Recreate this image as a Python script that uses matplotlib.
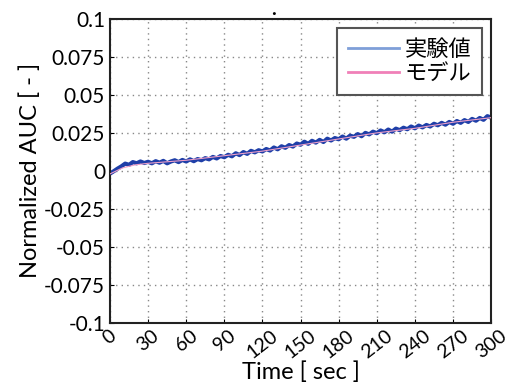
import numpy as np
import matplotlib.pyplot as plt
from matplotlib.lines import Line2D

t_exp = np.arange(0, 301, 3)
auc_exp = [
    -0.0018, -0.0002, 0.0015, 0.0030, 0.0048, 0.0040, 0.0058, 0.0050, 0.0062, 0.0052,
    0.0060, 0.0050, 0.0064, 0.0054, 0.0066, 0.0050, 0.0062, 0.0070, 0.0058, 0.0072,
    0.0062, 0.0076, 0.0064, 0.0078, 0.0070, 0.0084, 0.0076, 0.0092, 0.0082, 0.0098,
    0.0090, 0.0106, 0.0096, 0.0116, 0.0104, 0.0124, 0.0112, 0.0132, 0.0122, 0.0136,
    0.0128, 0.0144, 0.0134, 0.0154, 0.0142, 0.0162, 0.0152, 0.0170, 0.0160, 0.0180,
    0.0172, 0.0192, 0.0178, 0.0198, 0.0186, 0.0204, 0.0190, 0.0212, 0.0200, 0.0216,
    0.0208, 0.0226, 0.0212, 0.0232, 0.0224, 0.0242, 0.0228, 0.0250, 0.0240, 0.0258,
    0.0248, 0.0266, 0.0254, 0.0272, 0.0258, 0.0278, 0.0268, 0.0284, 0.0274, 0.0292,
    0.0280, 0.0298, 0.0286, 0.0302, 0.0292, 0.0310, 0.0300, 0.0316, 0.0304, 0.0322,
    0.0310, 0.0328, 0.0316, 0.0334, 0.0322, 0.0342, 0.0330, 0.0348, 0.0336, 0.0360,
    0.0350,
]

# model curve
t_model = [0, 10, 20, 30, 60, 90, 120, 150, 180, 210, 240, 270, 300]
auc_model = [-0.002, 0.002, 0.004, 0.005, 0.007, 0.010, 0.013, 0.017,
             0.021, 0.025, 0.028, 0.032, 0.035]

x_ticks = list(range(0, 301, 30))
y_ticks = [-0.1, -0.075, -0.05, -0.025, 0, 0.025, 0.05, 0.075, 0.1]
y_tick_labels = ["-0.1", "-0.075", "-0.05", "-0.025", "0", "0.025", "0.05", "0.075", "0.1"]

plt.rcParams['font.family'] = ['Lato', 'Noto Sans CJK JP', 'DejaVu Sans']

fig = plt.figure(figsize=(5.09, 3.92), dpi=100)
ax = fig.add_axes([0.216, 0.176, 0.749, 0.776])

ax.plot(t_exp, auc_exp, color="#1f3fa8", linewidth=3.0, zorder=2)
ax.plot(t_model, auc_model, color="#f0a0c8", linewidth=0.8, zorder=3)

ax.set_xlim(0, 300)
ax.set_ylim(-0.1, 0.1)
ax.set_xticks(x_ticks)
ax.set_xticklabels([str(v) for v in x_ticks], rotation=38, ha="center", fontsize=14)
ax.set_yticks(y_ticks)
ax.set_yticklabels(y_tick_labels, fontsize=15)
ax.tick_params(direction="in", length=3)
ax.tick_params(axis="x", pad=3)
ax.grid(True, linestyle=(0, (1, 3)), color="#888888", linewidth=1.0)
for s in ax.spines.values():
    s.set_linewidth(1.5)
    s.set_color("#222222")

ax.set_xlabel("Time [ sec ]", fontsize=17, labelpad=0)
ax.set_ylabel("Normalized AUC [ - ]", fontsize=17, labelpad=2)

handles = [Line2D([], [], color="#7f9fd8", linewidth=2),
           Line2D([], [], color="#f080b8", linewidth=2)]
leg = ax.legend(handles, ["実験値", "モデル"], loc="upper right", fontsize=16,
                fancybox=False, framealpha=1, edgecolor="#555555",
                handlelength=2.3, borderaxespad=0.4, labelspacing=0.2,
                handletextpad=0.25, borderpad=0.5)
leg.get_frame().set_linewidth(1.5)

fig.text(0.537, 0.975, ".", ha="center", va="center", fontsize=14, fontweight="bold")

fig.savefig("out.png", dpi=100)
